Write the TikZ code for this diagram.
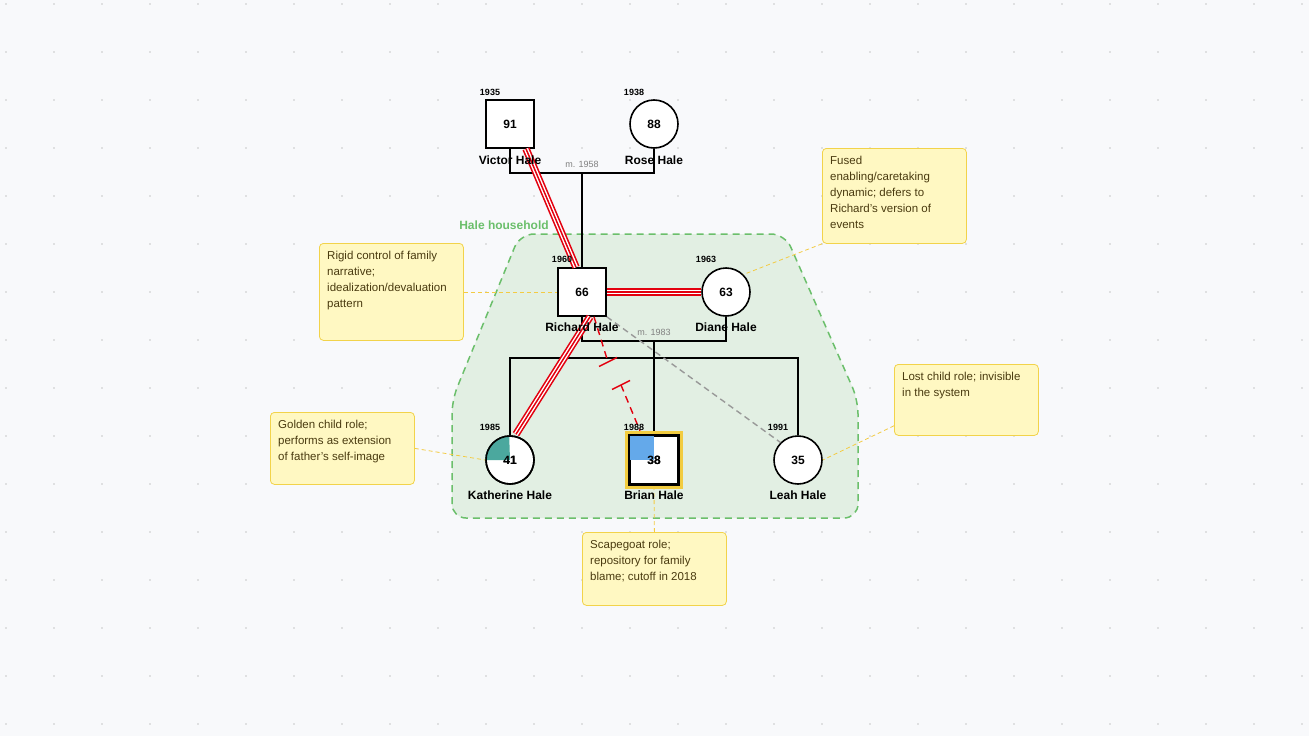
\documentclass[tikz,border=0pt]{standalone}
\usepackage{fontspec}
\setmainfont{Liberation Sans}
\usetikzlibrary{calc}
\definecolor{bg}{HTML}{F8F9FB}
\definecolor{notefill}{HTML}{FFF8C2}
\definecolor{noteline}{HTML}{F2D34A}
\definecolor{hhfill}{HTML}{E2EFE3}
\definecolor{hhline}{HTML}{6BBF6B}
\definecolor{tealq}{HTML}{4BA89E}
\definecolor{blu}{HTML}{64A9EA}
\definecolor{hl}{HTML}{F2CC40}
\definecolor{rd}{HTML}{E3000F}
\definecolor{notetext}{HTML}{4A3B10}
\begin{document}
\begin{tikzpicture}[x=1pt,y=-1pt,
  male/.style={draw=black,line width=1.6pt,fill=white,minimum size=48pt,inner sep=0pt,font=\bfseries\fontsize{12}{12}\selectfont},
  female/.style={draw=black,line width=1.6pt,fill=white,circle,minimum size=48pt,inner sep=0pt,font=\bfseries\fontsize{12}{12}\selectfont},
  pname/.style={font=\bfseries\fontsize{12}{12}\selectfont,inner sep=1pt},
  yr/.style={font=\bfseries\fontsize{9}{9}\selectfont,inner sep=0pt},
  mlab/.style={font=\fontsize{9}{9}\selectfont,text=gray},
  rel/.style={line width=1.6pt,black},
  note/.style={draw=noteline,fill=notefill,rounded corners=4pt,line width=0.8pt,anchor=north west,minimum width=144pt,inner sep=0pt},
  ntext/.style={anchor=north west,align=left,inner sep=0pt,font=\fontsize{11.5}{16}\selectfont,text=notetext},
  nl/.style={draw=noteline!90!orange,dash pattern=on 4pt off 3pt,line width=0.8pt},
  fused/.style={draw=rd,line width=7.5pt,postaction={draw=white,line width=4.3pt},postaction={draw=rd,line width=1.5pt}},
]
\fill[bg] (0,0) rectangle (1309,736);
\useasboundingbox (0,0) rectangle (1309,736);
\foreach \x in {6,54,...,1309} \foreach \y in {4,52,...,736} \fill[black!22] (\x,\y) circle (0.9pt);

% household
\draw[hhline,fill=hhfill,line width=1.5pt,dash pattern=on 7pt off 5pt,rounded corners=14pt]
 (452,518) -- (452,400) -- (520,234) -- (785,234) -- (858,400) -- (858,518) -- cycle;
\node[text=hhline,font=\bfseries\fontsize{12}{12}\selectfont] (hh) at (504,225) {Hale household};

% notes
\node[note,minimum height=95pt] (n1) at (822,148) {};
\node[ntext] (t1) at (830,156) {Fused\\enabling/caretaking\\dynamic; defers to\\Richard's version of\\events};
\node[note,minimum height=97pt] (n2) at (319,243) {};
\node[ntext] (t2) at (327,251) {Rigid control of family\\narrative;\\idealization/devaluation\\pattern};
\node[note,minimum height=72pt] (n3) at (270,412) {};
\node[ntext] (t3) at (278,420) {Golden child role;\\performs as extension\\of father's self-image};
\node[note,minimum height=73pt] (n4) at (582,532) {};
\node[ntext] (t4) at (590,540) {Scapegoat role;\\repository for family\\blame; cutoff in 2018};
\node[note,minimum height=71pt] (n5) at (894,364) {};
\node[ntext] (t5) at (902,372) {Lost child role; invisible\\in the system};

% people
\node[male] (victor) at (510,124) {91};
\node[female] (rose) at (654,124) {88};
\node[male] (richard) at (582,292) {66};
\node[female] (diane) at (726,292) {63};
\node[female] (kath) at (510,460) {41};
\node[fill=hl,minimum size=58pt,inner sep=0pt] (brhl) at (654,460) {};
\node[male] (brian) at (654,460) {38};
\node[female] (leah) at (798,460) {35};
\fill[tealq] (kath.center) -- (kath.west) arc[start angle=180,end angle=90,radius=24pt] -- cycle;
\fill[blu] ([shift={(0.8,0.8)}]brian.north west) rectangle (brian.center);
\node[font=\bfseries\fontsize{12}{12}\selectfont] (k41) at (kath.center) {41};
\node[font=\bfseries\fontsize{12}{12}\selectfont] (b38) at (brian.center) {38};
\draw[line width=1.6pt] (kath) circle (24pt);
\draw[line width=1.6pt] (brian.north west) rectangle (brian.south east);

% marriage / children lines
\coordinate (m1) at (582,173);
\coordinate (m2) at (654,341);
\coordinate (sb) at (654,358);
\draw[rel] (victor.south) |- (m1) -| (rose.south);
\draw[rel] (m1) -- (richard.north);
\draw[rel] (richard.south) |- (m2) -| (diane.south);
\draw[rel] (m2) -- (sb);
\draw[rel] (kath.north) |- (sb) -| (leah.north);
\draw[rel] (sb) -- (brhl.north);
\node[mlab] (ml1) at (582,164) {m. 1958};
\node[mlab] (ml2) at (654,332) {m. 1983};

% relationships
\draw[black!40,line width=1.4pt,dash pattern=on 6pt off 4pt] (richard.south east) -- (leah.north west);
\draw[fused] ([xshift=16pt]victor.south) -- ([xshift=-6pt]richard.north);
\draw[fused] (richard.east) -- (diane.west);
\draw[fused] ([xshift=8pt]richard.south) -- ([xshift=6pt,yshift=1pt]kath.north);
\coordinate (c1) at (608,362);
\coordinate (c2) at (621,385);
\draw[rd,line width=1.4pt,dash pattern=on 7pt off 5pt] ([xshift=12pt]richard.south) -- (c1);
\draw[rd,line width=1.4pt,dash pattern=on 7pt off 5pt] (c2) -- ([xshift=-14pt]brhl.north);
\draw[rd,line width=1.4pt] ($(c1)+(-9,4.5)$) -- ($(c1)+(9,-4.5)$);
\draw[rd,line width=1.4pt] ($(c2)+(-9,4.5)$) -- ($(c2)+(9,-4.5)$);

% note links
\draw[nl] (n1.south west) -- (diane.north east);
\draw[nl] (n2.east |- richard) -- (richard.west);
\draw[nl] (n3.east) -- (kath.west);
\draw[nl] (n4.north) -- (brhl.south);
\draw[nl] ($(n5.south west)+(0,-10)$) -- (leah.east);

% names
\node[pname] (nv) at (510,160) {Victor Hale};
\node[pname] (nr) at (654,160) {Rose Hale};
\node[pname] (nri) at (582,327) {Richard Hale};
\node[pname] (nd) at (726,327) {Diane Hale};
\node[pname] (nk) at (510,495) {Katherine Hale};
\node[pname] (nb) at (654,495) {Brian Hale};
\node[pname] (nle) at (798,495) {Leah Hale};
% years
\node[yr] (y1) at (490,92) {1935};
\node[yr] (y2) at (634,92) {1938};
\node[yr] (y3) at (562,259) {1960};
\node[yr] (y4) at (706,259) {1963};
\node[yr] (y5) at (490,427) {1985};
\node[yr] (y6) at (634,427) {1988};
\node[yr] (y7) at (778,427) {1991};
\end{tikzpicture}
\end{document}
